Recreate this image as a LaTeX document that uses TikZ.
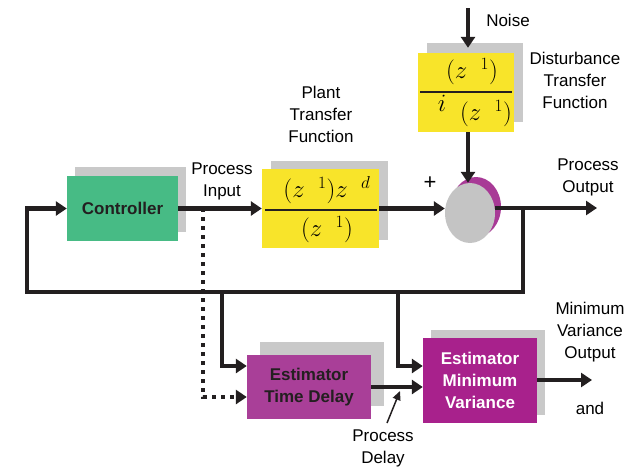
\documentclass[tikz,border=0pt]{standalone}
\usepackage{fontspec}
\setmainfont{Liberation Sans}
\usetikzlibrary{arrows.meta,shadows,shapes.geometric}
\definecolor{ctrlgreen}{RGB}{71,187,133}
\definecolor{tfyellow}{RGB}{248,228,42}
\definecolor{shadowgrey}{RGB}{201,201,201}
\definecolor{sumgrey}{RGB}{196,196,196}
\definecolor{rimpurple}{RGB}{168,58,150}
\definecolor{delaypurple}{RGB}{169,63,152}
\definecolor{varpurple}{RGB}{168,33,140}
\definecolor{inkdark}{RGB}{35,31,32}
\begin{document}
\begin{tikzpicture}[x=1pt,y=-1pt,
  font=\fontsize{17}{22}\selectfont,
  block/.style={inner sep=0pt,align=center,font=\fontsize{17}{22}\selectfont\bfseries},
  shade/.style 2 args={drop shadow={shadow xshift=#1,shadow yshift=#2,fill=shadowgrey,opacity=1}},
  tfmath/.style={inner sep=0pt,font=\fontsize{24}{28}\selectfont},
  wire/.style={line width=4.5pt,draw=inkdark},
  arr/.style={wire,-{Triangle[length=11pt,width=14pt]}}]
  \useasboundingbox (0,0) rectangle (635,467);

  % blocks
  \node[block,fill=ctrlgreen,text=inkdark,minimum width=111pt,minimum height=65pt,shade={8pt}{9pt}] (ctrl) at (122.5,208.5) {Controller};
  \node[block,fill=tfyellow,minimum width=117pt,minimum height=79pt,shade={9pt}{8pt}] (plant) at (320.5,208.5) {};
  \node[block,fill=tfyellow,minimum width=96pt,minimum height=79pt,shade={9pt}{10pt}] (dist) at (466,92.5) {};
  \node[block,fill=delaypurple,text=inkdark,minimum width=124pt,minimum height=64pt,shade={13pt}{13pt}] (tdelay) at (309,387) {Estimator\\Time Delay};
  \node[block,fill=varpurple,text=white,minimum width=114pt,minimum height=85pt,shade={8pt}{8pt}] (minvar) at (480,380.5) {Estimator\\Minimum\\Variance};

  % transfer functions
  \node[tfmath] (plantnum) at (327,190) {$(z^{\phantom{-}1})z^{\phantom{-}d}$};
  \node[tfmath] (plantden) at (327,230) {$(z^{\phantom{-}1})$};
  \draw[line width=1.2pt,inkdark] (265,210) -- (377,210);
  \node[tfmath] (distnum) at (472,72) {$(z^{\phantom{-}1})$};
  \node[tfmath] (disti) at (442,103) {$i$};
  \node[tfmath] (distden) at (486,114) {$(z^{\phantom{-}1})$};
  \draw[line width=1.2pt,inkdark] (420,92) -- (512,92);

  % summing junction
  \node[ellipse,fill=rimpurple,inner sep=0pt,minimum width=50pt,minimum height=60pt] (sumrim) at (476,207) {};
  \node[ellipse,fill=sumgrey,inner sep=0pt,minimum width=50pt,minimum height=60pt] (sum) at (470,213) {};

  % junction points
  \coordinate (noise) at (468,8);
  \coordinate (pin) at (203,208);
  \coordinate (outj) at (523,208);
  \coordinate (outend) at (597,208);
  \coordinate (fbr) at (523,292);
  \coordinate (fbl) at (27,292);
  \coordinate (tapa) at (222,292);
  \coordinate (tapb) at (398,292);
  \coordinate (mvend) at (592,380);
  \coordinate (pdtail) at (387,423);

  % connectors
  \draw[arr] (noise) -- ([yshift=5pt]dist.north -| noise);
  \draw[arr] (dist.south -| noise) -- (sum.north -| noise);
  \draw[arr] (ctrl.east) -- (plant.west |- ctrl.east);
  \draw[arr] (plant.east |- ctrl.east) -- (sum.west |- ctrl.east);
  \draw[arr] (sum.east |- outj) -- (outend);
  \draw[arr] (outj) -- (fbr) -- (fbl) -- (fbl |- ctrl.west) -- (ctrl.west);
  \draw[arr] (tapa) -- (tapa |- 0,366) -- (tdelay.west |- 0,366);
  \draw[arr] (tapb) -- (tapb |- 0,366) -- (minvar.west |- 0,366);
  \draw[arr,line cap=butt,dash pattern=on 4pt off 5pt] (pin) -- (pin |- 0,397) -- (tdelay.west |- 0,397);
  \draw[arr] (tdelay.east) -- (minvar.west |- tdelay.east);
  \draw[arr] (minvar.east |- mvend) -- (mvend);
  \draw[line width=1.5pt,inkdark,-{Triangle[length=9pt,width=8pt]}] (pdtail) -- (400,391);

  % labels
  \node (noiselbl) at (508,20) {Noise};
  \node[align=center] (distlbl) at (575,80) {Disturbance\\Transfer\\Function};
  \node[align=center] (plantlbl) at (321,114) {Plant\\Transfer\\Function};
  \node[align=center] (pinlbl) at (222,181) {Process\\Input};
  \node[align=center] (poutlbl) at (588,177) {Process\\Output};
  \node[font=\fontsize{22}{22}\selectfont] (pluslbl) at (430,183) {+};
  \node[align=center] (pdlbl) at (383,448) {Process\\Delay};
  \node[align=center] (mvlbl) at (590,332) {Minimum\\Variance\\Output};
  \node (andlbl) at (590,408) {and};
\end{tikzpicture}
\end{document}
